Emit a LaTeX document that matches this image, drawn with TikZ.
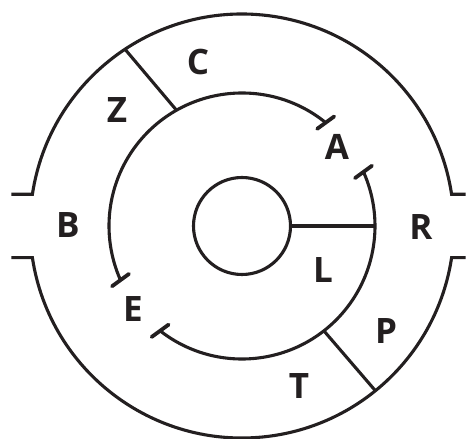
\documentclass[tikz,border=0pt]{standalone}
\usepackage{fontspec}
\setsansfont{Open Sans}
\usetikzlibrary{calc}
\definecolor{ink}{RGB}{35,31,32}
\tikzset{
  ring/.style={draw=ink, line width=3.1pt},
  tickmark/.style={draw=ink, line width=3.8pt, line cap=round},
  lbl/.style={font=\sffamily\bfseries\fontsize{35}{35}\selectfont, text=ink, inner sep=0pt},
}
\begin{document}
\begin{tikzpicture}[x=1pt,y=1pt]
  \useasboundingbox (-242,-213) rectangle (225,226);
  % hub and spoke
  \node[ring, circle, minimum size=97pt, inner sep=0pt] (hub) at (0,0) {};
  \coordinate (spoke) at (0:133);
  \draw[ring] (hub.east) -- (spoke);

  % middle ring, cut at A and E
  \coordinate (a1) at (51:133);
  \coordinate (a2) at (24:133);
  \coordinate (e1) at (204:133);
  \coordinate (e2) at (232:133);
  \draw[ring] (a1) arc[start angle=51, end angle=204, radius=133];
  \draw[ring] (e2) arc[start angle=232, end angle=384, radius=133];
  \foreach \p in {a1,a2,e1,e2}
    \draw[tickmark] ($(\p)+(36:-10.5)$) -- ++(36:21);

  % outer ring with gaps at B and R
  \coordinate (oTL) at (171.4:212);
  \coordinate (oTR) at (8.6:212);
  \coordinate (oBL) at (188.6:212);
  \coordinate (oBR) at (351.4:212);
  \draw[ring] ($(oTL)+(-21,0)$) -- (oTL) arc[start angle=171.4, end angle=8.6, radius=212] -- ++(14,0);
  \draw[ring] ($(oBL)+(-21,0)$) -- (oBL) arc[start angle=188.6, end angle=351.4, radius=212] -- ++(14,0);

  % dividers between outer and middle ring
  \coordinate (zc1) at (119.5:133);
  \coordinate (zc2) at (123.5:212);
  \coordinate (pt1) at (-52:133);
  \coordinate (pt2) at (-51:212);
  \draw[ring] (zc1) -- (zc2);
  \draw[ring] (pt1) -- (pt2);

  % letters
  \node[lbl] (C) at (-44,164) {C};
  \node[lbl] (Z) at (-125,116) {Z};
  \node[lbl] (A) at (95,79) {A};
  \node[lbl] (B) at (-174,1) {B};
  \node[lbl] (R) at (179,-1) {R};
  \node[lbl] (L) at (81,-44) {L};
  \node[lbl] (E) at (-109,-83) {E};
  \node[lbl] (P) at (144,-105) {P};
  \node[lbl] (T) at (57,-160) {T};
\end{tikzpicture}
\end{document}
